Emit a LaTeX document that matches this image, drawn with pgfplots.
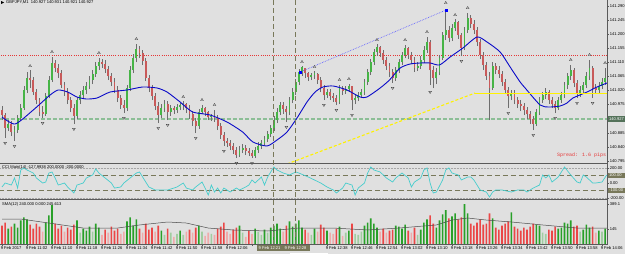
\documentclass[border=0pt]{standalone}
\usepackage{pgfplots}
\pgfplotsset{compat=1.18}
\usepackage{pgfplotstable}
\usepackage{fontspec}
\setmainfont{Liberation Sans}
\newfontfamily\monofont{Liberation Mono}
\definecolor{bg}{RGB}{224,224,224}
\definecolor{wick}{RGB}{110,110,110}
\definecolor{bull}{RGB}{70,180,70}
\definecolor{bear}{RGB}{200,90,90}
\definecolor{vgreen}{RGB}{40,160,40}
\definecolor{vred}{RGB}{235,70,70}
\definecolor{vpgreen}{RGB}{160,205,160}
\definecolor{vpred}{RGB}{240,170,170}
\definecolor{ma}{RGB}{10,10,200}
\definecolor{cci}{RGB}{70,205,205}
\definecolor{olive}{RGB}{120,120,90}
\definecolor{bidline}{RGB}{140,190,150}
\definecolor{sep}{RGB}{90,90,90}
\definecolor{hred}{RGB}{230,55,55}
\newcommand{\tk}{\fontsize{4.1}{4.5}\selectfont}

\pgfplotstableread{
i o h l c v
0 110 106 120 115 180
1 115 113 138 128 210
2 128 120 131 124 150
3 124 121 136 132 170
4 132 126 141 130 200
5 130 115 133 118 160
6 118 104 121 108 230
7 108 86 110 90 260
8 90 72 93 78 240
9 78 70 88 80 190
10 80 77 95 92 150
11 92 89 104 100 200
12 100 98 116 112 170
13 112 106 118 114 120
14 114 93 116 96 210
15 96 76 98 80 280
16 80 57 82 63 380
17 63 60 72 68 200
18 68 64 78 73 150
19 73 70 88 85 180
20 85 82 96 92 120
21 92 88 104 100 160
22 100 97 112 108 140
23 108 104 124 116 190
24 116 97 119 100 230
25 100 91 104 95 110
26 95 86 98 90 150
27 90 82 94 86 130
28 86 76 89 80 170
29 80 70 84 74 120
30 74 62 77 66 200
31 66 58 70 62 160
32 62 59 68 64 90
33 64 60 73 69 140
34 69 66 80 76 110
35 76 73 86 82 170
36 82 78 93 90 130
37 90 86 102 98 150
38 98 95 109 105 100
39 105 100 113 108 120
40 108 85 111 88 220
41 88 66 91 70 260
42 70 54 73 58 180
43 58 44 62 49 240
44 49 46 58 53 150
45 53 50 65 61 110
46 61 58 81 78 200
47 78 75 92 88 140
48 88 85 100 96 160
49 96 93 110 106 120
50 106 102 123 115 180
51 115 104 118 108 130
52 108 100 112 104 90
53 104 101 120 112 150
54 112 105 116 108 110
55 108 106 114 110 70
56 110 104 113 107 100
57 107 103 110 105 130
58 105 101 110 104 90
59 104 103 113 108 120
60 108 105 119 114 140
61 114 111 126 121 110
62 121 118 133 126 160
63 126 109 129 112 180
64 112 105 114 108 120
65 108 107 116 112 80
66 112 111 120 117 110
67 117 114 121 116 100
68 116 110 122 118 90
69 118 115 130 126 150
70 126 123 139 135 170
71 135 132 146 141 210
72 141 138 147 143 120
73 143 140 150 146 100
74 146 143 154 150 140
75 150 147 158 155 160
76 155 146 157 150 180
77 150 144 153 148 110
78 148 145 155 151 70
79 151 148 156 153 130
80 153 150 158 156 100
81 156 147 158 150 150
82 150 142 153 146 120
83 146 140 149 143 90
84 143 136 146 139 140
85 139 131 142 134 110
86 134 125 137 128 160
87 128 116 131 120 180
88 120 108 123 112 200
89 112 102 115 105 150
90 105 102 114 109 120
91 109 106 122 112 180
92 112 97 115 100 220
93 100 88 103 92 170
94 92 79 95 82 200
95 82 69 85 72 230
96 72 66 76 67 160
97 68 68 78 73 140
98 73 72 81 77 110
99 77 73 80 75 90
100 75 71 79 73 150
101 74 73 84 80 120
102 80 77 92 88 190
103 88 85 100 95 160
104 95 89 98 92 130
105 92 89 100 96 110
106 96 93 102 98 100
107 98 95 105 102 150
108 102 85 104 88 170
109 88 86 95 91 80
110 91 86 94 89 110
111 89 84 92 86 130
112 86 86 110 100 200
113 100 95 104 98 100
114 98 92 101 95 90
115 95 89 98 92 120
116 92 79 95 82 180
117 82 69 85 72 210
118 72 59 75 62 250
119 62 49 65 52 200
120 52 44 56 47 160
121 47 46 57 53 120
122 53 50 64 60 150
123 60 57 70 66 110
124 66 63 77 72 130
125 72 69 83 78 140
126 78 67 81 70 180
127 70 59 73 62 170
128 62 52 65 55 150
129 55 45 58 48 190
130 48 47 59 55 130
131 55 52 64 60 110
132 60 57 72 68 160
133 68 62 71 66 90
134 66 56 69 60 140
135 60 46 63 50 210
136 50 37 53 42 240
137 42 40 85 70 280
138 70 66 88 78 200
139 78 68 84 72 160
140 72 55 75 58 230
141 58 32 60 35 290
142 35 9 40 30 330
143 30 26 42 38 250
144 38 24 41 28 270
145 28 19 31 22 300
146 22 21 39 35 240
147 35 33 56 48 260
148 48 27 50 30 389
149 30 13 33 18 300
150 18 15 28 24 200
151 24 20 34 30 180
152 30 27 46 42 210
153 42 39 59 55 240
154 55 52 70 65 190
155 65 62 80 76 200
156 76 72 120 88 300
157 88 62 90 66 250
158 66 63 74 70 160
159 70 66 78 74 140
160 74 71 86 82 180
161 82 79 94 90 200
162 90 87 108 96 220
163 96 90 100 93 310
164 93 90 104 100 170
165 100 97 108 104 150
166 104 100 111 106 130
167 106 103 115 110 160
168 110 107 119 114 140
169 114 111 124 119 170
170 119 116 130 124 200
171 124 109 126 112 190
172 112 97 115 100 180
173 100 92 103 95 110
174 95 88 99 92 100
175 92 90 104 100 140
176 100 97 108 104 130
177 104 101 113 108 170
178 108 97 110 100 150
179 100 92 103 95 160
180 95 82 98 85 210
181 85 73 89 76 200
182 76 65 80 70 230
183 70 68 87 83 170
184 83 80 98 94 180
185 94 86 97 90 120
186 90 82 93 85 140
187 85 72 88 76 190
188 76 60 80 68 160
189 68 66 98 88 170
190 88 84 94 90 110
191 90 82 93 86 130
192 86 78 89 82 120
193 82 68 85 78 150
}\bars

\pgfplotstableread{
i y
0 117
4.2 124
10 110
15.4 95
18 90
21 92
24 97
27 99
30.4 98
34.6 92
40 90
45 87
49.6 88
52.8 92
57 102
61 112
66.6 115
72 122
77 132
80.3 142
84.8 146
88 140
91.2 132
94.4 118
97.6 102
100.2 92
102.7 87
106 86
110.4 90
114.6 97
116.8 97
121 88
124 80
127.4 68
130.6 64
133.8 63
137 63
140 65
143.4 57
147.5 48
152 37
155.2 42
159.4 52
162.6 67
165.8 82
167.4 88
172.2 105
175 107
178.6 106
180.8 103
182.7 98
187.2 92
190.4 87
193.6 83
}\matab

\pgfplotstableread{
i y
9 66
16 52
31 53
43 39
58 97
64 100
68 105
96 62
100 67
108 80
111 79
120 40
129 40
136 32
142 3
145 15
149 8
182 60
188 55
193 63
}\fup

\pgfplotstableread{
i y
1 143
4 146
13 123
23 129
39 118
50 128
53 125
62 138
71 151
75 163
80 163
91 127
103 105
107 110
112 115
125 88
137 92
147 61
162 113
170 135
177 118
184 103
189 103
}\fdown

\pgfplotstableread{
i v
0 -53
1 0
3 -27
4 67
5 -67
6 173
7 200
8 173
10 133
11 67
13 0
14 13
15 133
16 147
17 67
18 -27
20 0
21 -53
23 -133
24 -27
26 0
27 67
29 107
30 187
31 133
33 67
35 0
36 -67
38 -53
39 0
41 67
43 133
44 147
45 80
46 13
47 -53
49 -93
51 -93
53 -93
55 -67
56 -53
58 0
59 -67
61 -93
62 -53
64 13
65 -67
66 -160
67 -27
68 -120
69 -67
70 -133
71 -67
73 -120
75 -67
76 -93
78 -53
79 -27
80 40
81 0
83 80
84 -27
85 80
86 147
87 213
88 173
90 133
92 107
94 147
95 133
98 80
100 40
102 0
104 -53
106 -93
107 -133
109 -67
110 0
112 -27
113 -160
114 -67
116 0
117 133
118 213
119 173
121 147
123 67
125 13
126 67
128 133
130 67
131 -53
132 13
133 40
134 67
135 173
136 200
137 0
138 -133
139 -120
141 40
142 173
143 200
144 133
146 107
147 40
149 80
150 80
151 40
153 -93
155 -120
156 -187
157 -120
158 -93
160 -93
163 -120
165 -93
167 -93
168 -120
170 -67
172 -27
173 107
174 67
175 107
176 13
178 80
179 147
180 213
182 107
184 13
185 0
186 107
187 80
189 0
190 0
192 13
193.5 107
}\ccitab

\pgfplotstableread{
i v
0 244
6 244
15 205
26 156
37 156
44 186
53 215
59 205
66 156
74 137
85 127
95 156
106 156
117 137
127 156
139 186
144 234
149 254
155 234
163 215
173 186
184 156
193.6 156
}\vsma

\pgfplotsset{
  panel/.style={scale only axis, width=607bp, xmin=-0.64, xmax=193.6,
    anchor=north west, axis line style={draw=none},
    xtick=\empty, ytick pos=right, tick align=outside,
    major tick length=2bp, tick style={draw=sep, line width=0.4bp},
    yticklabel style={font=\tk, anchor=west, inner sep=0.6bp, xshift=0bp},
    clip=true},
  eb/.style={draw=none, mark=none, forget plot, error bars/y dir=minus,
    error bars/y explicit, error bars/error mark=none},
}

\begin{document}
\begin{tikzpicture}
\useasboundingbox (0,0) rectangle (625bp,-254bp);
\fill[bg] (0,0) rectangle (625bp,-254bp);

% ---------------- price panel
\begin{axis}[panel, at={(0bp,0bp)}, height=163bp, ymin=0, ymax=163, y dir=reverse,
  ytick={6,20,34,48,62,76,90,104,133,147,161},
  yticklabels={141.290,141.245,141.200,141.155,141.110,141.065,141.020,140.975,140.885,140.840,140.795}]
\addplot[hred, dash pattern=on 0.9bp off 1.3bp, line width=0.8bp] coordinates {(-1,55) (200,55)};
\addplot[bidline, dash pattern=on 4bp off 2bp, line width=1.3bp] coordinates {(-1,119) (200,119)};
% wicks
\addplot[eb, error bars/error bar style={line width=0.55bp, draw=wick, solid}]
  table[x=i, y=l, y error expr=\thisrow{l}-\thisrow{h}] {\bars};
% bull bodies
\addplot[eb, restrict expr to domain={\thisrow{o}-\thisrow{c}}{0.5:1000},
  error bars/error bar style={line width=1.9bp, draw=bull, solid}]
  table[x=i, y=o, y error expr=\thisrow{o}-\thisrow{c}] {\bars};
% bear bodies
\addplot[eb, restrict expr to domain={\thisrow{c}-\thisrow{o}}{-0.5:1000},
  error bars/error bar style={line width=1.9bp, draw=bear, solid}]
  table[x=i, y=c, y error expr=\thisrow{c}-\thisrow{o}] {\bars};
% moving average
\addplot[ma, line width=0.9bp, smooth, tension=0.4, mark=none] table[x=i, y=y] {\matab};
% fractals
\addplot[only marks, mark=triangle*, mark size=1.7bp, mark options={fill=gray!55, draw=gray!40!black, line width=0.2bp}] table[x=i, y=y] {\fup};
\addplot[only marks, mark=triangle*, mark size=1.7bp, mark options={rotate=180, fill=gray!55, draw=gray!40!black, line width=0.2bp}] table[x=i, y=y] {\fdown};
% objects
\addplot[yellow, dash pattern=on 3bp off 2bp, line width=1.1bp] coordinates {(91.2,164) (151.4,93)};
\addplot[yellow, line width=1.0bp] coordinates {(151.4,93) (193.6,93)};
\addplot[blue!60, densely dotted, line width=0.7bp] coordinates {(95.4,72) (142.1,10)};
\addplot[only marks, mark=square*, mark size=0.9bp, blue] coordinates {(95.4,72) (142.1,10)};
\end{axis}

% ---------------- CCI panel
\begin{axis}[panel, at={(0bp,-164bp)}, height=35bp, ymin=-213, ymax=253,
  ytick={200,0,-200}, yticklabels={200.00,0.00,-200.00}]
\addplot[gray!70, densely dotted, line width=0.5bp] coordinates {(-1,200) (200,200)};
\addplot[gray!70, densely dotted, line width=0.5bp] coordinates {(-1,-200) (200,-200)};
\addplot[olive, dash pattern=on 5bp off 3bp, line width=0.7bp] coordinates {(-1,100) (200,100)};
\addplot[olive, dash pattern=on 5bp off 3bp, line width=0.7bp] coordinates {(-1,-100) (200,-100)};
\addplot[cci, line width=0.7bp, mark=none] table[x=i, y=v] {\ccitab};
\end{axis}

% ---------------- Volume panel
\begin{axis}[panel, at={(0bp,-200bp)}, height=44bp, ymin=0, ymax=430,
  ytick={389.1,145}, yticklabels={389.1,145},
  xtick={0,8,...,192}, xtick pos=bottom,
  xticklabels={9 Feb 2017,9 Feb 11:02,9 Feb 11:10,9 Feb 11:18,9 Feb 11:26,9 Feb 11:34,9 Feb 11:42,9 Feb 11:50,9 Feb 11:58,9 Feb 12:06,{},{},{},9 Feb 12:38,9 Feb 12:46,9 Feb 12:54,9 Feb 13:02,9 Feb 13:10,9 Feb 13:18,9 Feb 13:26,9 Feb 13:34,9 Feb 13:42,9 Feb 13:50,9 Feb 13:58,9 Feb 14:06},
  xticklabel style={font=\tk, anchor=north west, inner sep=0.6bp, xshift=-2bp}]
\addplot[ybar, bar width=1.6bp, bar shift=0pt, fill=vgreen, draw=none,
  restrict expr to domain={(\thisrow{o}>\thisrow{c})*(\thisrow{v}>129)}{0.5:1.5}] table[x=i, y=v] {\bars};
\addplot[ybar, bar width=1.6bp, bar shift=0pt, fill=vpgreen, draw=none,
  restrict expr to domain={(\thisrow{o}>\thisrow{c})*(\thisrow{v}<130)}{0.5:1.5}] table[x=i, y=v] {\bars};
\addplot[ybar, bar width=1.6bp, bar shift=0pt, fill=vred, draw=none,
  restrict expr to domain={(\thisrow{o}<\thisrow{c}+0.5)*(\thisrow{v}>129)}{0.5:1.5}] table[x=i, y=v] {\bars};
\addplot[ybar, bar width=1.6bp, bar shift=0pt, fill=vpred, draw=none,
  restrict expr to domain={(\thisrow{o}<\thisrow{c}+0.5)*(\thisrow{v}<130)}{0.5:1.5}] table[x=i, y=v] {\bars};
\addplot[gray!60!black, line width=0.5bp, mark=none] table[x=i, y=v] {\vsma};
\end{axis}

% separators and frame
\draw[sep, line width=1.3bp] (0,-163.8bp) -- (607.5bp,-163.8bp);
\draw[sep, line width=1.5bp] (0,-199.7bp) -- (607.5bp,-199.7bp);
\draw[sep, line width=0.8bp] (0,-244bp) -- (607.5bp,-244bp);
\draw[sep, line width=0.8bp] (607.5bp,0) -- (607.5bp,-244bp);

% vertical lines
\draw[olive, dash pattern=on 5bp off 3bp, line width=0.8bp] (273bp,0) -- (273bp,-244bp);
\draw[olive, dash pattern=on 5bp off 3bp, line width=0.8bp] (295bp,0) -- (295bp,-244bp);

% time label box for vertical lines
\fill[olive] (257bp,-245bp) rectangle (310bp,-251bp);
\node[anchor=west, font=\tk, text=white, inner sep=0.5bp] at (258bp,-248bp) {9 Feb 12:21};
\node[anchor=west, font=\tk, text=white, inner sep=0.5bp] at (284bp,-248bp) {9 Feb 12:28};
\fill[white] (290bp,-252.5bp) rectangle (328bp,-254bp);

% CCI level boxes
\fill[olive] (608bp,-172.8bp) rectangle (625bp,-178.2bp);
\node[anchor=west, font=\tk, text=white, inner sep=0.5bp] at (608.5bp,-175.5bp) {100.00};
\fill[olive] (608bp,-187.8bp) rectangle (625bp,-193.2bp);
\node[anchor=west, font=\tk, text=white, inner sep=0.5bp] at (608.5bp,-190.5bp) {-100.00};

% horizontal line price box
\fill[bidline!60!black] (608bp,-116.3bp) rectangle (625bp,-121.7bp);
\node[anchor=west, font=\tk, text=white, inner sep=0.5bp] at (608.5bp,-119bp) {140.927};

% titles
\fill[black] (1bp,-1bp) -- (4bp,-2.5bp) -- (1bp,-4bp) -- cycle;
\node[anchor=west, font=\tk, inner sep=0pt] at (6bp,-2.6bp) {GBPJPY,M1\ \ 140.927 140.931 140.921 140.927};
\node[anchor=west, font=\tk, inner sep=0pt] at (2bp,-167.8bp) {CCI Main(14) -127.9938 200.0000 -200.0000};
\node[anchor=west, font=\tk, inner sep=0pt] at (2bp,-204.5bp) {SMA(12) 240.000 0.000 245.613};
\node[anchor=west, font=\monofont\fontsize{5}{5}\selectfont, text=hred, inner sep=0pt] at (557bp,-155bp) {Spread: 1.6 pips};
\end{tikzpicture}
\end{document}
